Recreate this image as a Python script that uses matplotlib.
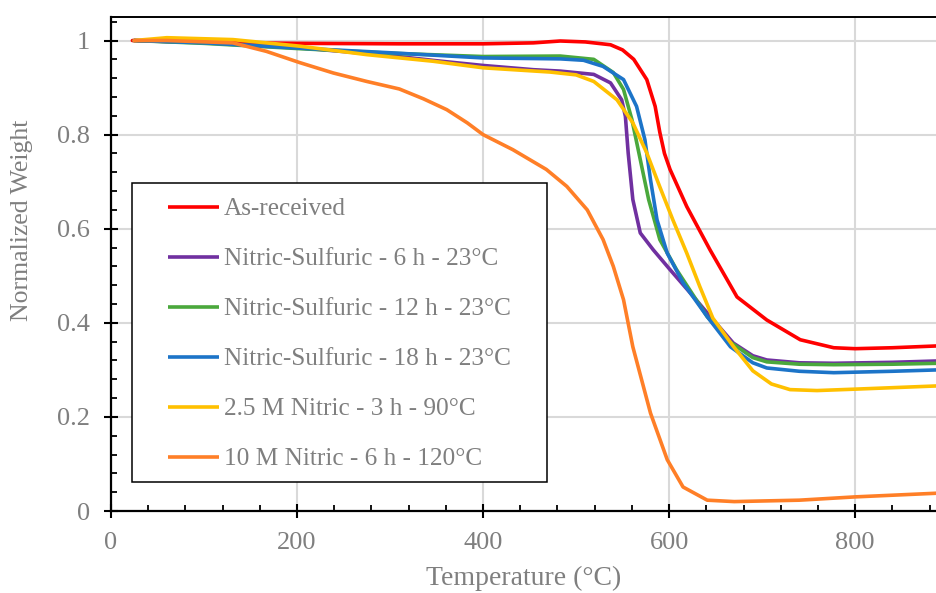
import numpy as np
import matplotlib
matplotlib.use("Agg")
import matplotlib.pyplot as plt
from matplotlib.patches import Rectangle
from matplotlib.ticker import MultipleLocator

# TGA curves (temperature in C, normalized weight)
as_received_t = [23, 100, 200, 310, 400, 454, 483, 510, 537, 550, 562, 576, 585,
                 590, 595, 601, 619, 644, 673, 705, 741, 777, 800, 840, 890]
as_received_w = [1.0, 0.996, 0.994, 0.993, 0.993, 0.995, 0.999, 0.997, 0.991,
                 0.980, 0.960, 0.917, 0.860, 0.805, 0.760, 0.726, 0.647, 0.555,
                 0.455, 0.406, 0.364, 0.347, 0.345, 0.347, 0.351]

ns6_t = [25, 100, 200, 300, 350, 400, 454, 483, 519, 537, 549, 553, 556, 561,
         569, 583, 601, 626, 641, 669, 690, 705, 740, 777, 840, 890]
ns6_w = [1.0, 0.996, 0.985, 0.968, 0.957, 0.947, 0.938, 0.935, 0.928, 0.910,
         0.874, 0.839, 0.761, 0.662, 0.591, 0.555, 0.513, 0.456, 0.421, 0.357,
         0.330, 0.321, 0.315, 0.314, 0.316, 0.319]

ns12_t = [25, 100, 200, 300, 400, 483, 519, 540, 551, 560, 569, 578, 590, 608,
          641, 665, 690, 705, 740, 777, 840, 890]
ns12_w = [1.0, 0.994, 0.983, 0.973, 0.966, 0.967, 0.960, 0.932, 0.896, 0.832,
          0.747, 0.662, 0.577, 0.513, 0.413, 0.360, 0.326, 0.317, 0.312, 0.311,
          0.312, 0.314]

ns18_t = [25, 100, 200, 300, 400, 483, 508, 529, 551, 565, 574, 580, 587, 598,
          615, 641, 666, 690, 705, 740, 777, 840, 890]
ns18_w = [1.0, 0.995, 0.984, 0.974, 0.963, 0.961, 0.958, 0.945, 0.917, 0.860,
          0.789, 0.704, 0.619, 0.548, 0.485, 0.413, 0.349, 0.315, 0.304, 0.297,
          0.294, 0.297, 0.300]

n25_t = [25, 60, 131, 203, 275, 346, 400, 472, 500, 519, 544, 561, 576, 590,
         604, 619, 633, 647, 669, 690, 710, 730, 759, 800, 890]
n25_w = [1.0, 1.006, 1.002, 0.988, 0.970, 0.956, 0.942, 0.933, 0.927, 0.913,
         0.874, 0.825, 0.761, 0.689, 0.619, 0.548, 0.477, 0.410, 0.350, 0.298,
         0.270, 0.258, 0.256, 0.259, 0.266]

n10_t = [25, 60, 131, 167, 203, 239, 275, 310, 336, 361, 383, 400, 432, 468,
         490, 512, 529, 540, 551, 561, 580, 598, 615, 641, 670, 740, 800, 890]
n10_w = [1.0, 1.0, 0.995, 0.977, 0.953, 0.931, 0.913, 0.897, 0.876, 0.853,
         0.825, 0.800, 0.768, 0.726, 0.690, 0.640, 0.577, 0.520, 0.449, 0.349,
         0.208, 0.109, 0.051, 0.023, 0.020, 0.023, 0.030, 0.038]

labels = ["As-received", "Nitric-Sulfuric - 6 h - 23°C",
          "Nitric-Sulfuric - 12 h - 23°C", "Nitric-Sulfuric - 18 h - 23°C",
          "2.5 M Nitric - 3 h - 90°C", "10 M Nitric - 6 h - 120°C"]
colors = ["#FF0000", "#7030A0", "#4AA83C", "#1C74C8", "#FFC000", "#FF7F27"]
series = [(as_received_t, as_received_w), (ns6_t, ns6_w), (ns12_t, ns12_w),
          (ns18_t, ns18_w), (n25_t, n25_w), (n10_t, n10_w)]

plt.rcParams['font.family'] = ['Liberation Serif', 'DejaVu Serif']
grey = "#7F7F7F"

fig = plt.figure(figsize=(9.37, 5.93), dpi=100)
ax = fig.add_axes([111 / 937, 1 - 511 / 593, 1 - 111 / 937, (511 - 17) / 593])

for (t, w), lab, c in zip(series, labels, colors):
    ax.plot(t, w, color=c, lw=2.6, label=lab, solid_capstyle='round',
            solid_joinstyle='round')

ax.set_xlim(0, 888)
ax.set_ylim(0, 1.05)
ax.xaxis.set_major_locator(MultipleLocator(200))
ax.xaxis.set_minor_locator(MultipleLocator(40))
ax.yaxis.set_minor_locator(MultipleLocator(0.04))
ax.set_yticks([0, 0.2, 0.4, 0.6, 0.8, 1.0])
ax.set_yticklabels(["0", "0.2", "0.4", "0.6", "0.8", "1"])

ax.grid(True, which='major', color='#D9D9D9', lw=1.5)
ax.set_axisbelow(True)

ax.tick_params(which='major', direction='inout', length=10, width=1.5,
               labelsize=19, labelcolor=grey, pad=10)
ax.tick_params(which='minor', direction='in', length=4, width=1.3)

for side in ['left', 'bottom']:
    ax.spines[side].set_linewidth(1.6)
ax.spines['top'].set_linewidth(1.4)
ax.spines['right'].set_visible(False)

ax.set_xlabel("Temperature (°C)", fontsize=20, color=grey, labelpad=9)
ax.set_ylabel("Normalized Weight", fontsize=18.5, color=grey)
ax.yaxis.set_label_coords(-0.094, 0.589)

# legend frame drawn separately so the inner padding can match the reference
box = Rectangle((21 / 826, 29 / 494), 415 / 826, 299 / 494, transform=ax.transAxes,
                facecolor='white', edgecolor='black', lw=1.1, zorder=5)
ax.add_patch(box)
leg = ax.legend(loc='upper left', bbox_to_anchor=(0.069, 0.634), frameon=False,
                fontsize=18.2, handlelength=2.0, labelspacing=1.08,
                borderpad=0, handletextpad=0.2, borderaxespad=0)
leg.set_zorder(6)
for txt in leg.get_texts():
    txt.set_color(grey)
for h in leg.get_lines():
    h.set_solid_capstyle('butt')

fig.savefig("out.png", dpi=100)
